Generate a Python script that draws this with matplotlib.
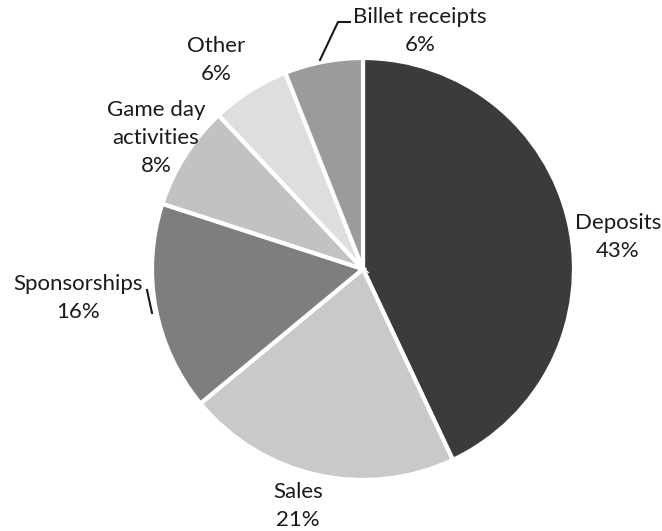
import matplotlib
matplotlib.use('Agg')
import matplotlib.pyplot as plt

# Dati del grafico a torta
categories = ['Deposits', 'Sales', 'Sponsorships', 'Game day\nactivities', 'Other', 'Billet receipts']
shares = [43, 21, 16, 8, 6, 6]
colors = ['#3b3b3b', '#c9c9c9', '#7e7e7e', '#c2c2c2', '#dedede', '#9b9b9b']

# posizione delle etichette (pixel, origine in alto a sinistra)
label_pos = [(618, 237), (298, 506), (78, 298), (156, 138), (216, 60), (420, 31)]

W, H = 662, 531
cx, cy, r = 363, 269, 211

plt.rcParams['font.family'] = ['Lato', 'DejaVu Sans']

fig = plt.figure(figsize=(W / 100, H / 100), dpi=100)
ax = fig.add_axes([0, 0, 1, 1])

wedges, _ = ax.pie(shares, colors=colors, startangle=90, counterclock=False,
                   center=(cx, H - cy), radius=r,
                   wedgeprops=dict(edgecolor='white', linewidth=3))
ax.set_xlim(0, W)
ax.set_ylim(0, H)
ax.set_aspect('equal')
ax.axis('off')

for name, val, (x, y) in zip(categories, shares, label_pos):
    ax.text(x, H - y, f'{name}\n{val}%', ha='center', va='center',
            fontsize=16, color='#1a1a1a', linespacing=1.5)

# linee guida
ax.plot([320, 338, 350], [H - 60, H - 22, H - 22], color='#1a1a1a', lw=1.5)
ax.plot([147, 152], [H - 290, H - 313], color='#1a1a1a', lw=1.5)

fig.savefig('out.png', dpi=100)
